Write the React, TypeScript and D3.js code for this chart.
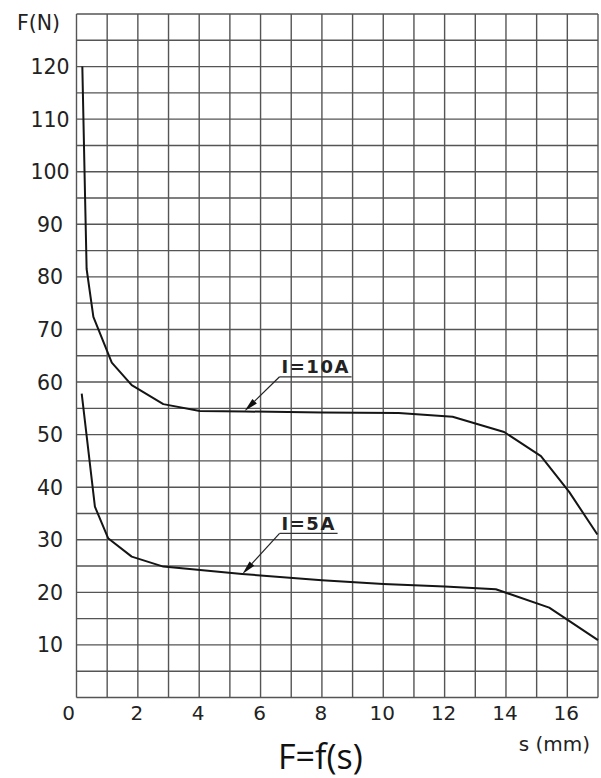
import React from 'react'
import * as d3 from 'd3'

// ---- data ----
// I = 10A curve, [s (mm), F (N)]
const curve10A: [number, number][] = [
  [0.19, 120], [0.28, 95], [0.33, 81.5], [0.55, 72.4], [1.15, 63.7],
  [1.8, 59.4], [2.83, 55.8], [4.02, 54.5], [5.5, 54.4], [8, 54.2],
  [10.5, 54.1], [12.26, 53.4], [13.94, 50.5], [15.14, 45.9], [16.06, 39.1],
  [16.98, 31],
]
// I = 5A curve
const curve5A: [number, number][] = [
  [0.17, 57.8], [0.6, 36.3], [1.03, 30.3], [1.8, 26.8], [2.83, 24.9],
  [5.4, 23.5], [8, 22.3], [10, 21.6], [12, 21.1], [13.67, 20.6],
  [15.41, 17.1], [17, 10.9],
]
const yTickLabels = [10, 20, 30, 40, 50, 60, 70, 80, 90, 100, 110, 120]
const xTickLabels = [0, 2, 4, 6, 8, 10, 12, 14, 16]
const xGrid = d3.range(0, 18, 1)
const yGrid = d3.range(0, 135, 5)

// annotation anchors: label shelf start and arrow tip, in data units
const notes = [
  { text: 'I=10A', shelf: [6.62, 61.0], tip: [5.48, 54.5], width: 72 },
  { text: 'I=5A', shelf: [6.62, 31.2], tip: [5.41, 23.5], width: 58 },
]

const W = 601
const H = 778
const margin = { top: 14, right: 3, bottom: 80.5, left: 76.5 }

export default function App() {
  const x = d3.scaleLinear().domain([0, 17]).range([margin.left, W - margin.right])
  const y = d3.scaleLinear().domain([0, 130]).range([H - margin.bottom, margin.top])

  const line = d3.line<[number, number]>()
    .x(d => x(d[0]))
    .y(d => y(d[1]))

  const axisFont = '"DejaVu Sans", sans-serif'

  return (
    <svg width={W} height={H} style={{ position: 'absolute', left: 0, top: 0, background: '#fff' }}>
      {/* grid */}
      <g stroke="#555" strokeWidth={1.4}>
        {xGrid.map(v => (
          <line key={'gx' + v} x1={x(v)} x2={x(v)} y1={y(0)} y2={y(130)} />
        ))}
        {yGrid.map(v => (
          <line key={'gy' + v} x1={x(0)} x2={x(17)} y1={y(v)} y2={y(v)} />
        ))}
      </g>

      {/* curves */}
      <g fill="none" stroke="#151515" strokeWidth={2} strokeLinejoin="round">
        <path d={line(curve10A) || ''} />
        <path d={line(curve5A) || ''} />
      </g>

      {/* labels with leader arrows */}
      {notes.map(n => {
        const sx = x(n.shelf[0]), sy = y(n.shelf[1])
        const tx = x(n.tip[0]), ty = y(n.tip[1])
        const ang = Math.atan2(ty - sy, tx - sx)
        const len = 14, half = 3.2
        const bx = tx - len * Math.cos(ang), by = ty - len * Math.sin(ang)
        const px = -Math.sin(ang) * half, py = Math.cos(ang) * half
        return (
          <g key={n.text}>
            <line x1={sx} y1={sy} x2={sx + n.width} y2={sy} stroke="#333" strokeWidth={1.3} />
            <line x1={sx} y1={sy} x2={bx} y2={by} stroke="#222" strokeWidth={1.2} />
            <polygon points={`${tx},${ty} ${bx + px},${by + py} ${bx - px},${by - py}`} fill="#111" />
            <text x={sx + 2} y={sy - 3.5} fontFamily={axisFont} fontWeight="bold"
              fontSize={18} letterSpacing={1.5} fill="#222">{n.text}</text>
          </g>
        )
      })}

      {/* y tick labels */}
      <g fontFamily={axisFont} fontSize={20.5} fill="#222" textAnchor="middle">
        {yTickLabels.map(v => (
          <text key={'yl' + v} x={50} y={y(v) + 1.5} dominantBaseline="middle">{v}</text>
        ))}
        <text x={38.5} y={29.5}>F(N)</text>
      </g>

      {/* x tick labels */}
      <g fontFamily={axisFont} fontSize={20} fill="#222" textAnchor="middle">
        {xTickLabels.map(v => (
          <text key={'xl' + v} x={x(v) - (v === 0 ? 8 : 1)} y={719.5}>{v}</text>
        ))}
        <text x={590} y={750.5} textAnchor="end">s (mm)</text>
      </g>

      <text x={278} y={768.5} fontFamily='"Open Sans", sans-serif' fontSize={34} fill="#111">F=f(s)</text>
    </svg>
  )
}
